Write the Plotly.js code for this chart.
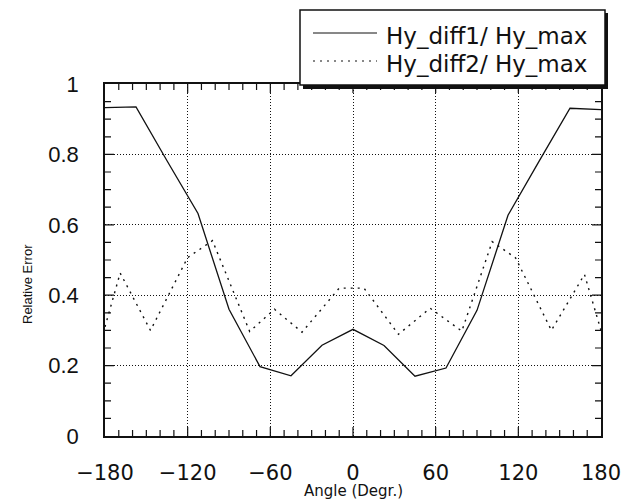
<!DOCTYPE html>
<html>
<head>
<meta charset="utf-8">
<script src="https://cdn.plot.ly/plotly-3.0.1.min.js"></script>
<style>html,body{margin:0;padding:0;background:#fff;}#chart{width:628px;height:500px;}</style>
</head>
<body>
<div id="chart"></div>
<script>
// Series 1: Hy_diff1/Hy_max (solid)
var angles1 = [-180, -157.5, -135, -112.5, -90, -67.5, -45, -22.5, 0, 22.5, 45, 67.5, 90, 112.5, 135, 157.5, 180];
var values1 = [0.933, 0.935, 0.782, 0.632, 0.36, 0.197, 0.171, 0.258, 0.303, 0.257, 0.17, 0.193, 0.357, 0.627, 0.78, 0.931, 0.927];
// Series 2: Hy_diff2/Hy_max (dotted)
var angles2 = [-180, -169, -147, -120, -102, -75, -57, -37, -10, 8, 33, 56, 79, 101, 118, 144, 168, 180];
var values2 = [0.31, 0.463, 0.30, 0.507, 0.555, 0.297, 0.36, 0.295, 0.42, 0.42, 0.289, 0.363, 0.298, 0.552, 0.506, 0.30, 0.459, 0.30];
// Axis ticks
var xRange = [-180, 180], yRange = [0, 1];
var xTick0 = -180, xDtick = 60, xMinor = 10;
var yTick0 = 0, yDtick = 0.2, yMinor = 0.05;
var seriesNames = ['Hy_diff1/ Hy_max', 'Hy_diff2/ Hy_max'];

var M = {l: 105, r: 27, t: 84, b: 64};
var W = 628, H = 500;
var pw = W - M.l - M.r, ph = H - M.t - M.b;
function px2x(p) { return (p - M.l) / pw; }
function px2y(p) { return (H - M.b - p) / ph; }

var lineStyles = [
  {color: '#111', width: 1.3},
  {color: '#111', width: 1.4, dash: '2px,5px'}
];

var traces = [
  {x: angles1, y: values1, type: 'scatter', mode: 'lines', name: seriesNames[0], line: lineStyles[0]},
  {x: angles2, y: values2, type: 'scatter', mode: 'lines', name: seriesNames[1], line: lineStyles[1]}
];

// Inward tick marks on all four sides, as one paper-coordinate path
var tp = '';
var nX = Math.round((xRange[1] - xRange[0]) / xMinor);
for (var i = 1; i < nX; i++) {
  var xv = xTick0 + i * xMinor;
  var fx = (xv - xRange[0]) / (xRange[1] - xRange[0]);
  var lx = (Math.round(xv / xDtick) * xDtick === xv ? 9 : 6) / ph;
  tp += 'M' + fx + ',0L' + fx + ',' + lx + 'M' + fx + ',1L' + fx + ',' + (1 - lx);
}
var nY = Math.round((yRange[1] - yRange[0]) / yMinor);
for (var j = 1; j < nY; j++) {
  var yv = yTick0 + j * yMinor;
  var fy = (yv - yRange[0]) / (yRange[1] - yRange[0]);
  var isMaj = Math.abs(Math.round(yv / yDtick) * yDtick - yv) < 1e-9;
  var ly = (isMaj ? 9 : 6) / pw;
  tp += 'M0,' + fy + 'L' + ly + ',' + fy + 'M1,' + fy + 'L' + (1 - ly) + ',' + fy;
}
var shapes = [{type: 'path', xref: 'paper', yref: 'paper', layer: 'above', path: tp,
               line: {color: '#111', width: 1.2}}];

// Legend drawn as a framed box with a drop shadow
var legRows = [35, 63];
shapes.push(
  {type: 'rect', xref: 'paper', yref: 'paper', layer: 'above',
   x0: px2x(303), x1: px2x(608), y0: px2y(13), y1: px2y(89),
   fillcolor: '#111', line: {width: 0}},
  {type: 'rect', xref: 'paper', yref: 'paper', layer: 'above',
   x0: px2x(300), x1: px2x(605), y0: px2y(10), y1: px2y(85),
   fillcolor: '#fff', line: {color: '#111', width: 1.5}}
);
var annotations = [{
  text: 'Relative Error', xref: 'paper', yref: 'paper',
  x: px2x(27), y: px2y(284), xanchor: 'center', yanchor: 'middle',
  textangle: -90, showarrow: false,
  font: {family: 'Liberation Sans', size: 13, color: '#111'}
}, {
  text: 'Angle (Degr.)', xref: 'paper', yref: 'paper',
  x: 0.5, y: px2y(491), xanchor: 'center', yanchor: 'middle',
  showarrow: false,
  font: {family: 'DejaVu Sans', size: 15, color: '#111'}
}];
seriesNames.forEach(function (nm, i) {
  shapes.push({type: 'line', xref: 'paper', yref: 'paper', layer: 'above',
    x0: px2x(313), x1: px2x(377), y0: px2y(legRows[i] - 2), y1: px2y(legRows[i] - 2),
    line: {color: lineStyles[i].color, width: 1, dash: lineStyles[i].dash || 'solid'}});
  annotations.push({text: nm, xref: 'paper', yref: 'paper',
    x: px2x(384), y: px2y(legRows[i] + 1), xanchor: 'left', yanchor: 'middle',
    showarrow: false, font: {family: 'DejaVu Sans', size: 23, color: '#111'}});
});

function axisBase() {
  return {
    // transparent outside ticks act as spacers pushing the labels off the frame
    ticks: 'outside', tickwidth: 1, tickcolor: 'rgba(0,0,0,0)',
    showline: true, linecolor: '#111', linewidth: 1.5, mirror: true,
    showgrid: true, gridcolor: '#111', gridwidth: 1, griddash: '1px,2px',
    zeroline: false
  };
}
var xaxis = axisBase();
Object.assign(xaxis, {
  range: xRange, tickmode: 'linear', tick0: xTick0, dtick: xDtick, ticklen: 17,
  tickfont: {family: 'DejaVu Sans', size: 21, color: '#111'}
});
var yaxis = axisBase();
Object.assign(yaxis, {
  range: yRange, tickmode: 'linear', tick0: yTick0, dtick: yDtick, ticklen: 20,
  tickfont: {family: 'Liberation Sans', size: 22, color: '#111'}
});

var layout = {
  width: W, height: H,
  margin: M,
  paper_bgcolor: '#fff', plot_bgcolor: '#fff',
  showlegend: false,
  xaxis: xaxis, yaxis: yaxis,
  annotations: annotations,
  shapes: shapes
};

Plotly.newPlot('chart', traces, layout, {displayModeBar: false});
</script>
</body>
</html>
